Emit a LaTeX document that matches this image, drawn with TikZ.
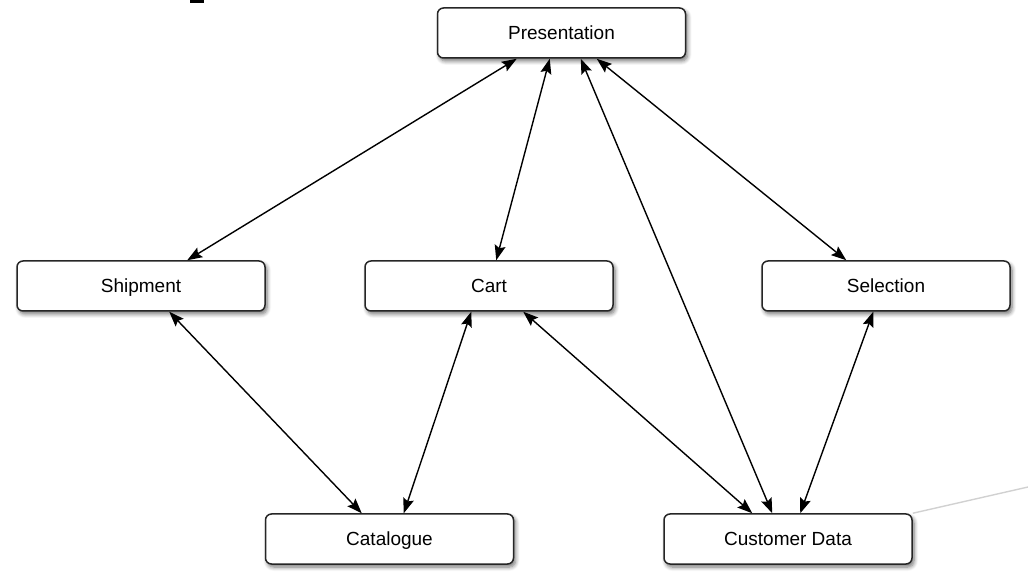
\documentclass[tikz,border=0pt]{standalone}
\usepackage{fontspec}
\setmainfont{Liberation Sans}
\usetikzlibrary{arrows.meta,shadows.blur}
\begin{document}
\begin{tikzpicture}[x=1pt,y=1pt,
  box/.style={draw=black!85, line width=1.5pt, rounded corners=6pt, fill=white,
    minimum width=248pt, minimum height=50pt, inner sep=0pt,
    text height=13.6pt, text depth=0pt,
    font=\fontsize{19}{23}\selectfont,
    blur shadow={shadow xshift=2pt, shadow yshift=-3pt, shadow blur steps=6, shadow blur radius=4pt, shadow opacity=55}},
  link/.style={line width=1.4pt, {Stealth[length=15pt,width=11pt,inset=2.5pt]}-{Stealth[length=15pt,width=11pt,inset=2.5pt]}}]
\useasboundingbox (0,0) rectangle (1028,573);
\fill[black] (190,573) rectangle (204,570);
% service boxes
\node[box] (pres) at (561.5,540) {Presentation};
\node[box] (ship) at (141,287) {Shipment};
\node[box] (cart) at (489,287) {Cart};
\node[box] (sel)  at (886,287) {Selection};
\node[box] (cat)  at (389.5,34) {Catalogue};
\node[box] (cust) at (788,34) {Customer Data};
% faint line leaving the customer data box
\draw[black!18, line width=1.4pt] (cust.north east) -- (1028,86);
% connections
\draw[link] ([xshift=80pt]pres.south west) -- ([xshift=171pt]ship.north west);
\draw[link] ([xshift=113pt]pres.south west) -- ([xshift=132pt]cart.north west);
\draw[link] ([xshift=144pt]pres.south west) -- ([xshift=109pt]cust.north west);
\draw[link] ([xshift=160pt]pres.south west) -- ([xshift=85pt]sel.north west);
\draw[link] ([xshift=153pt]ship.south west) -- ([xshift=97pt]cat.north west);
\draw[link] ([xshift=107pt]cart.south west) -- ([xshift=139pt]cat.north west);
\draw[link] ([xshift=159pt]cart.south west) -- ([xshift=89pt]cust.north west);
\draw[link] ([xshift=112pt]sel.south west) -- ([xshift=137pt]cust.north west);
\end{tikzpicture}
\end{document}
